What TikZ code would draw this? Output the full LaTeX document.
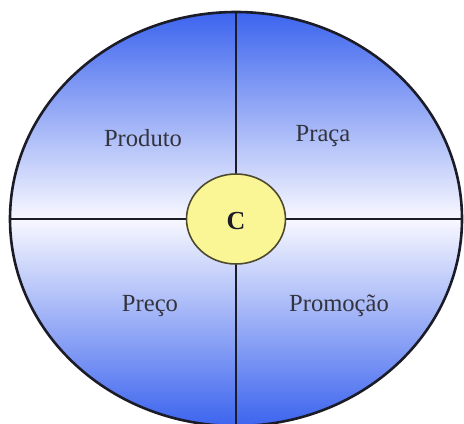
\documentclass[tikz,border=0pt]{standalone}
\usepackage{fontspec}
\setmainfont{Liberation Serif}
\usepackage{tikz}
\usetikzlibrary{shapes.geometric, positioning}
\definecolor{deepblue}{HTML}{3C64EE}
\definecolor{paleblue}{HTML}{F8F8FF}
\definecolor{hubyellow}{HTML}{FAF696}
\definecolor{inkline}{HTML}{1C1C28}

\begin{document}
\begin{tikzpicture}[x=0.5pt, y=0.5pt, font=\fontsize{12.3}{14}\selectfont,
    quadtext/.style={text=inkline!90},
    divider/.style={inkline, line width=1.2pt}]
  \useasboundingbox (-236,-204) rectangle (228,219);

  % metades com degrade
  \shade[top color=deepblue, middle color=deepblue!35!paleblue, bottom color=paleblue]
    (-226,0) arc[start angle=180, end angle=0, x radius=226, y radius=207] -- cycle;
  \shade[top color=paleblue, middle color=deepblue!35!paleblue, bottom color=deepblue]
    (226,0) arc[start angle=0, end angle=-180, x radius=226, y radius=207] -- cycle;

  % bordas da elipse
  \coordinate (top) at (0,207);
  \coordinate (bottom) at (0,-207);
  \coordinate (left) at (-226,0);
  \coordinate (right) at (226,0);

  % centro
  \node[ellipse, draw=black!60!olive, line width=0.8pt, fill=hubyellow,
        minimum width=49.5pt, minimum height=45pt, inner sep=0pt] (core) at (0,0) {};
  \node[font=\fontsize{13}{14}\selectfont\bfseries, text=inkline] (clabel) at (0,-2) {C};

  % divisores
  \draw[divider] (core.north) -- (top);
  \draw[divider] (core.south) -- (bottom);
  \draw[divider] (core.west) -- (left);
  \draw[divider] (core.east) -- (right);

  \draw[inkline, line width=1.3pt] (0,0) ellipse[x radius=226, y radius=207];

  % quadrantes
  \node[quadtext] (produto) at (-93,81) {Produto};
  \node[quadtext] (praca) at (87,83) {Praça};
  \node[quadtext] (preco) at (-86,-87) {Preço};
  \node[quadtext] (promocao) at (103,-87) {Promoção};
\end{tikzpicture}
\end{document}
